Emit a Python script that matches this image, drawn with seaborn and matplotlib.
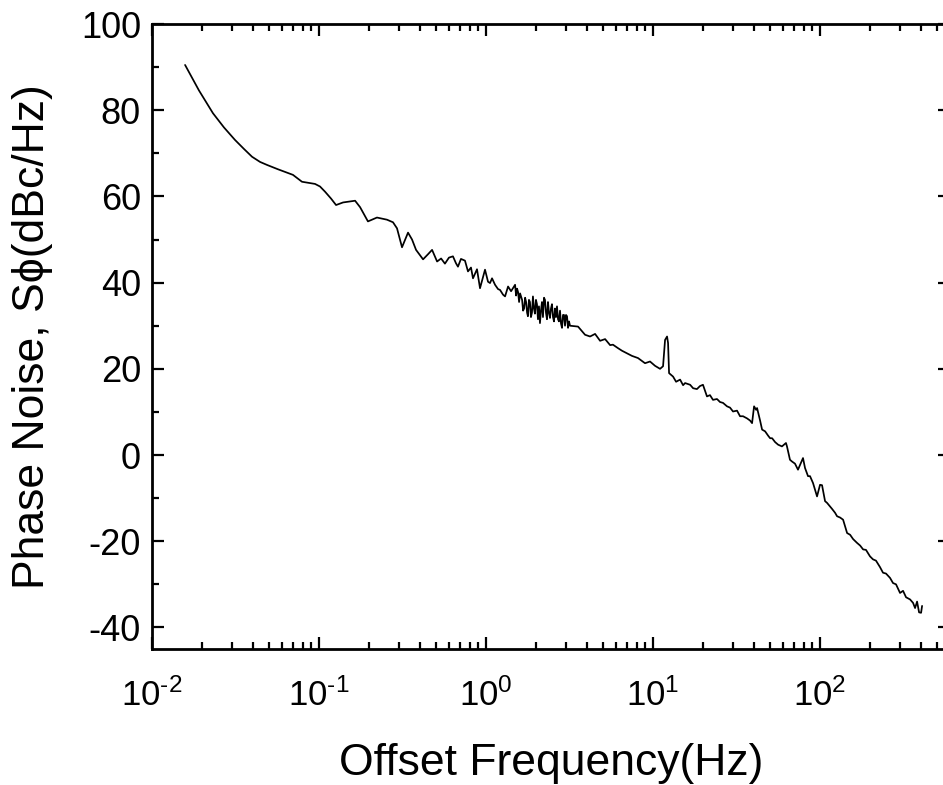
import numpy as np
import pandas as pd
import matplotlib
matplotlib.use("Agg")
import matplotlib.pyplot as plt
from matplotlib.ticker import LogLocator, MultipleLocator, FuncFormatter, NullFormatter
import seaborn as sns

# Offset frequency, as decade exponent (Hz = 10**value)
offset_log10_hz = [
    -1.802, -1.719, -1.635, -1.569, -1.503, -1.449, -1.401, -1.353, -1.311, -1.246,
    -1.156, -1.102, -1.024, -0.994, -0.964, -0.928, -0.898, -0.856, -0.784, -0.754,
    -0.707, -0.653, -0.593, -0.557, -0.533, -0.503, -0.467, -0.443, -0.419, -0.377,
    -0.347, -0.323, -0.293, -0.269, -0.246, -0.222, -0.198, -0.180, -0.168, -0.150,
    -0.126, -0.108, -0.090, -0.078, -0.054, -0.036, -0.006, 0.012, 0.024, 0.036,
    0.054, 0.072, 0.084, 0.102, 0.114, 0.132, 0.150,
    0.174, 0.180, 0.186, 0.192, 0.198, 0.204, 0.216, 0.222, 0.228, 0.234,
    0.240, 0.246, 0.251, 0.257, 0.263, 0.269, 0.275, 0.281, 0.287, 0.293,
    0.299, 0.305, 0.311, 0.317, 0.323, 0.329, 0.335, 0.341, 0.347, 0.353,
    0.359, 0.365, 0.371, 0.377, 0.383, 0.389, 0.395, 0.401, 0.407, 0.413,
    0.419, 0.425, 0.431, 0.437, 0.443, 0.449, 0.455, 0.461, 0.467, 0.473,
    0.479, 0.485, 0.491, 0.497, 0.503,
    0.551, 0.593, 0.623, 0.653, 0.683, 0.713, 0.743, 0.760,
    0.790, 0.814, 0.844, 0.874, 0.910, 0.952, 0.982, 1.012, 1.042, 1.060,
    1.072, 1.084, 1.090, 1.096, 1.120, 1.138, 1.162, 1.180, 1.192, 1.222,
    1.240, 1.263, 1.281, 1.299, 1.323, 1.341, 1.359, 1.383, 1.401, 1.419,
    1.443, 1.461, 1.479, 1.503, 1.521, 1.539, 1.563, 1.581, 1.593, 1.605,
    1.617, 1.623, 1.641, 1.653, 1.671, 1.689, 1.701, 1.713, 1.731, 1.749,
    1.772, 1.796, 1.802, 1.820, 1.832, 1.850, 1.868, 1.898, 1.910, 1.928,
    1.940, 1.958, 1.982, 2.000, 2.012, 2.030, 2.042, 2.072, 2.090, 2.102,
    2.120, 2.138, 2.162, 2.180, 2.198, 2.222, 2.240, 2.258, 2.275, 2.299,
    2.317, 2.335, 2.359, 2.377, 2.395, 2.419, 2.437, 2.455, 2.479, 2.497,
    2.515, 2.539, 2.557, 2.569, 2.581, 2.593, 2.605, 2.611,
]

# Phase noise values (dBc/Hz)
phase_noise_db = [
    90.5, 84.6, 79.3, 76.0, 73.1, 71.0, 69.2, 68.0, 67.3, 66.3,
    65.0, 63.4, 62.9, 62.3, 61.1, 59.5, 58.0, 58.6, 59.0, 57.5,
    54.2, 55.1, 54.6, 54.0, 52.6, 48.2, 51.6, 50.0, 47.6, 45.4,
    46.6, 47.6, 44.9, 45.6, 44.4, 45.8, 46.1, 44.5, 43.7, 45.5,
    45.1, 42.6, 43.5, 41.0, 43.1, 38.7, 43.0, 40.2, 39.9, 41.0,
    39.5, 38.5, 38.3, 37.2, 36.8, 39.1, 38.0,
    39.5, 37.0, 38.6, 37.8, 35.5, 37.5, 36.0, 33.5, 34.0, 36.5,
    35.5, 33.0, 32.2, 36.0, 35.5, 32.0, 33.0, 36.8, 34.0, 32.8,
    36.0, 35.0, 31.5, 34.5, 30.6, 33.5, 35.5, 32.0, 36.5, 36.0,
    33.0, 31.5, 35.5, 33.0, 31.8, 34.0, 35.0, 32.0, 31.0, 34.0,
    32.0, 34.5, 31.5, 31.0, 33.5, 30.5, 29.5, 32.5, 32.5, 30.0,
    32.5, 32.2, 29.5, 31.0, 30.0,
    29.8, 27.9, 27.5, 28.1, 26.5, 26.9, 25.5, 25.6,
    24.8, 24.2, 23.6, 23.0, 22.5, 21.3, 21.7, 20.7, 20.0, 20.6,
    26.7, 27.5, 26.0, 19.0, 18.2, 17.0, 17.5, 16.2, 16.7, 16.3,
    15.5, 15.3, 16.0, 16.3, 13.6, 13.9, 12.8, 13.0, 12.3, 12.1,
    11.3, 11.0, 10.1, 10.3, 9.0, 9.0, 8.5, 8.0, 7.4, 11.3,
    10.5, 10.9, 8.0, 5.9, 5.5, 4.5, 3.9, 3.9, 3.0, 2.4,
    2.0, 2.8, 2.0, -1.1, -1.5, -2.0, -3.4, -0.7, -3.0, -4.9,
    -4.9, -6.5, -9.6, -6.9, -7.0, -10.7, -11.1, -12.5, -13.4, -14.2,
    -14.5, -15.0, -18.1, -18.5, -19.5, -20.4, -21.0, -21.9, -22.0, -23.5,
    -24.2, -24.5, -26.0, -27.3, -27.5, -28.5, -29.7, -30.0, -32.0, -31.5,
    -33.0, -33.5, -34.3, -35.5, -34.0, -36.5, -36.6, -35.0,
]

x_label = "Offset Frequency(Hz)"
y_label = "Phase Noise, S\u03d5(dBc/Hz)"

sns.set_theme(style="ticks")
plt.rcParams["font.family"] = ["Liberation Sans", "DejaVu Sans"]
plt.rcParams["mathtext.fontset"] = "custom"
plt.rcParams["mathtext.rm"] = "Liberation Sans"
plt.rcParams["mathtext.it"] = "Liberation Sans:italic"
plt.rcParams["mathtext.bf"] = "Liberation Sans:bold"
plt.rcParams["mathtext.default"] = "regular"
plt.rcParams["axes.unicode_minus"] = False

df = pd.DataFrame({"freq": np.power(10.0, offset_log10_hz), "pn": phase_noise_db})

fig = plt.figure(figsize=(9.43, 7.85), dpi=100)
ax = fig.add_axes([152 / 943, 1 - 649 / 785, (950 - 152) / 943, (649 - 24) / 785])

sns.lineplot(data=df, x="freq", y="pn", ax=ax, sort=False, estimator=None,
             color="black", linewidth=1.25)

ax.set_xscale("log")
ax.set_xlim(0.01, 600)
ax.set_ylim(-45, 100)


def decade_label(val, pos):
    e = int(round(np.log10(val)))
    s = str(e).replace("-", "\u2010")
    return "$10^{" + s + "}$"


ax.xaxis.set_major_locator(LogLocator(base=10, numticks=12))
ax.xaxis.set_minor_locator(LogLocator(base=10, subs=np.arange(2, 10), numticks=12))
ax.xaxis.set_major_formatter(FuncFormatter(decade_label))
ax.xaxis.set_minor_formatter(NullFormatter())
ax.yaxis.set_major_locator(MultipleLocator(20))
ax.yaxis.set_minor_locator(MultipleLocator(10))

for s in ax.spines.values():
    s.set_linewidth(2.0)
    s.set_color("black")

ax.tick_params(which="both", direction="in", top=True, right=True, color="black", width=1.6)
ax.tick_params(which="major", length=8.5)
ax.tick_params(which="minor", length=5)
ax.tick_params(axis="y", which="major", labelsize=26, pad=8, labelcolor="black")
ax.tick_params(axis="x", which="major", labelsize=25, pad=21, labelcolor="black")

ax.set_xlabel(x_label, fontsize=32, labelpad=22, color="black")
ax.set_ylabel(y_label, fontsize=32, labelpad=20, color="black")
ax.grid(False)
ax.set_facecolor("white")
fig.patch.set_facecolor("white")

fig.savefig("out.png", dpi=100)
